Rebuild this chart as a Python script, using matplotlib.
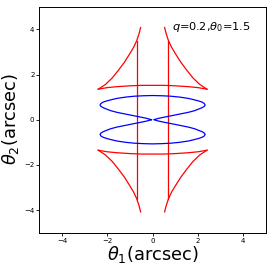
import numpy as np
import matplotlib.pyplot as plt

# caustic (red): upper-left cusp branch
cusp_x = [-0.53, -0.60, -0.70, -0.84, -1.02, -1.24, -1.50, -1.78, -2.08, -2.40]
cusp_y = [4.08, 3.80, 3.50, 3.20, 2.90, 2.55, 2.20, 1.85, 1.56, 1.35]

# nearly flat arc joining the two upper cusps
arc_x = [-2.40, -2.00, -1.60, -1.00, -0.50, 0.00, 0.50, 1.00, 1.60, 2.00, 2.40]
arc_y = [1.35, 1.42, 1.46, 1.50, 1.52, 1.52, 1.52, 1.50, 1.46, 1.42, 1.35]

# vertical parts of the caustic
line_x = [-0.70, 0.70]
line_top = 3.50
line_bottom = -3.50

# critical curve (blue): upper lobe, left half, from centre round to the top
crit_x = [-0.05, -0.26, -0.50, -0.85, -1.20, -1.59, -1.85, -2.03, -2.18, -2.28, -2.32,
          -2.28, -2.18, -2.03, -1.80, -1.59, -1.20, -0.80, -0.40, 0.00]
crit_y = [0.00, 0.06, 0.11, 0.18, 0.25, 0.33, 0.40, 0.47, 0.53, 0.59, 0.65,
          0.72, 0.78, 0.83, 0.89, 0.94, 1.00, 1.04, 1.06, 1.07]

label = r'$q$=0.2,$\theta_0$=1.5'

plt.figure(figsize=(2.73, 2.69), dpi=100)
ax = plt.axes([0.144, 0.135, 0.830, 0.840])

cx = np.array(cusp_x)
cy = np.array(cusp_y)
for sx in (1, -1):
    for sy in (1, -1):
        ax.plot(sx * cx, sy * cy, color='red', lw=0.9)
ax.plot(arc_x, arc_y, color='red', lw=0.9)
ax.plot(arc_x, -np.array(arc_y), color='red', lw=0.9)
for x in line_x:
    ax.plot([x, x], [line_top, line_bottom], color='red', lw=0.9)

# build the closed critical curve from the quarter
qx = np.array(crit_x)
qy = np.array(crit_y)
upper_x = np.concatenate([qx, -qx[::-1]])
upper_y = np.concatenate([qy, qy[::-1]])
lower_x = upper_x[::-1]
lower_y = -upper_y[::-1]
ax.plot(np.concatenate([upper_x, lower_x]), np.concatenate([upper_y, lower_y]),
        color='blue', lw=0.9)

ax.text(0.84, 4.12, label, fontsize=8.2, va='center')

ax.set_xlim(-5, 5)
ax.set_ylim(-5, 5)
ax.set_xticks([-4, -2, 0, 2, 4])
ax.set_yticks([-4, -2, 0, 2, 4])
ax.tick_params(labelsize=5, length=2, width=0.6, pad=1.5)
for s in ax.spines.values():
    s.set_linewidth(0.7)
ax.set_xlabel(r'$\theta_1$(arcsec)', fontsize=12.8, labelpad=0.5)
ax.set_ylabel(r'$\theta_2$(arcsec)', fontsize=12.8, labelpad=2)

plt.savefig('out.png', dpi=100)
